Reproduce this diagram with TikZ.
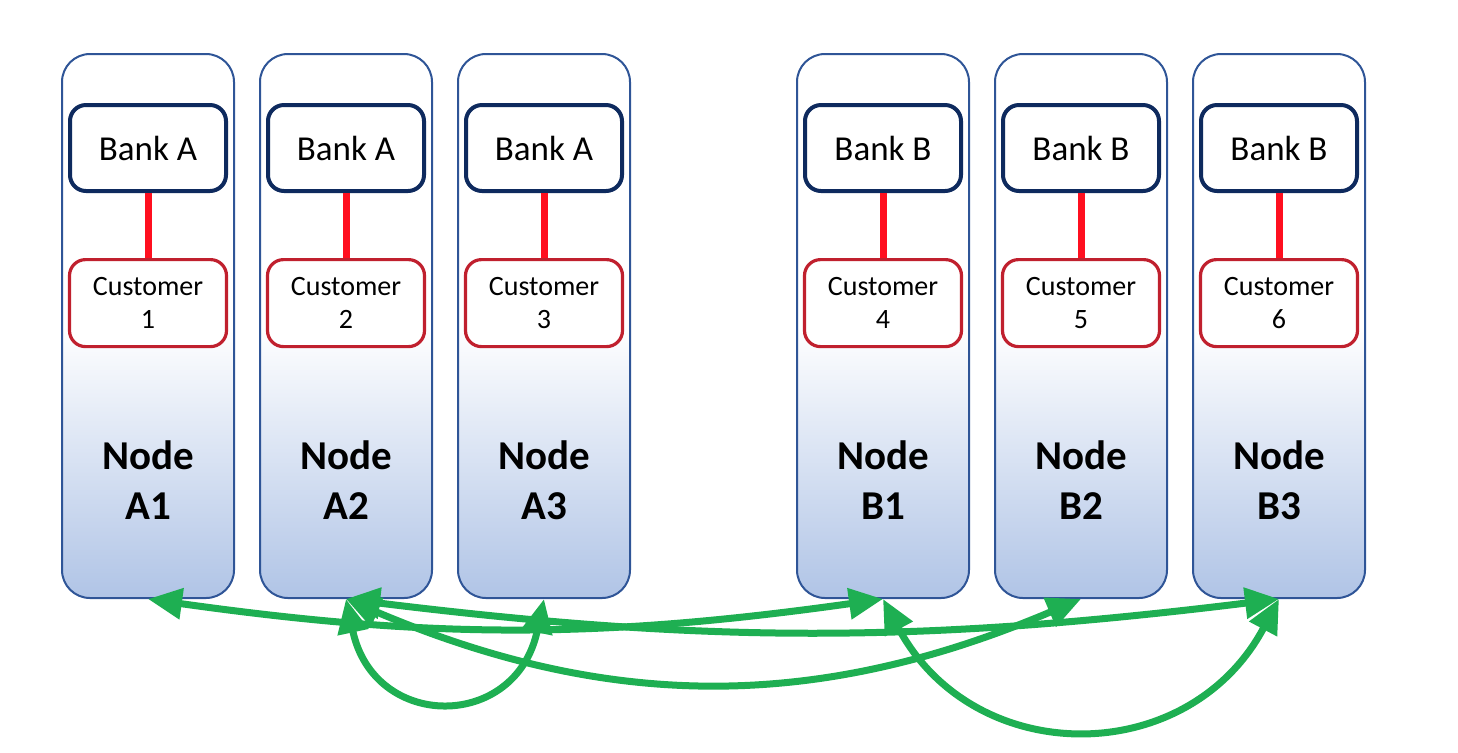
\documentclass[tikz,border=0pt]{standalone}
\usepackage{fontspec}
\setmainfont{Carlito}
\usetikzlibrary{arrows.meta,positioning}
\definecolor{colframe}{HTML}{2F5597}
\definecolor{colfill}{HTML}{B0C4E6}
\definecolor{banknavy}{HTML}{0E2A5E}
\definecolor{custred}{HTML}{C0202E}
\definecolor{tiered}{HTML}{FF0F1F}
\definecolor{linkgreen}{HTML}{1EAF52}
\tikzset{
  column/.style={rectangle, draw=colframe, line width=1pt, rounded corners=14pt, top color=white, bottom color=colfill, middle color=white, minimum width=86pt, minimum height=272pt},
  bankblock/.style={rectangle, draw=banknavy, line width=2pt, rounded corners=8pt, fill=white, minimum width=78pt, minimum height=43pt, font=\fontsize{17.5}{21}\selectfont},
  custblock/.style={rectangle, draw=custred, line width=1.6pt, rounded corners=8pt, fill=white, align=center, minimum width=78.5pt, minimum height=43.5pt, font=\fontsize{14}{16.5}\selectfont},
  colname/.style={align=center, font=\bfseries\fontsize{20.5}{25}\selectfont},
  tie/.style={draw=tiered, line width=3.5pt},
  link/.style={{Triangle[length=17pt,width=15pt]}-{Triangle[length=17pt,width=15pt]}, draw=linkgreen, line width=3.5pt}
}

\begin{document}
\begin{tikzpicture}[node distance=12pt]
  \useasboundingbox (0,0) rectangle (729pt,-376pt);
  % node columns
  \node[column, anchor=north west] (A1) at (30.5pt,-26.5pt) {};
  \node[column, right=of A1] (A2) {};
  \node[column, right=of A2] (A3) {};
  \node[column, right=82.5pt of A3] (B1) {};
  \node[column, right=of B1] (B2) {};
  \node[column, right=of B2] (B3) {};

  % bank A side
  \node[bankblock, below=25pt of A1.north] (bankA1) {Bank A};
  \node[custblock, below=32.5pt of bankA1] (cust1) {Customer\\1};
  \node[colname] (nameA1) at ([yshift=59.5pt]A1.south) {Node\\A1};
  \node[bankblock, below=25pt of A2.north] (bankA2) {Bank A};
  \node[custblock, below=32.5pt of bankA2] (cust2) {Customer\\2};
  \node[colname] (nameA2) at ([yshift=59.5pt]A2.south) {Node\\A2};
  \node[bankblock, below=25pt of A3.north] (bankA3) {Bank A};
  \node[custblock, below=32.5pt of bankA3] (cust3) {Customer\\3};
  \node[colname] (nameA3) at ([yshift=59.5pt]A3.south) {Node\\A3};

  % bank B side
  \node[bankblock, below=25pt of B1.north] (bankB1) {Bank B};
  \node[custblock, below=32.5pt of bankB1] (cust4) {Customer\\4};
  \node[colname] (nameB1) at ([yshift=59.5pt]B1.south) {Node\\B1};
  \node[bankblock, below=25pt of B2.north] (bankB2) {Bank B};
  \node[custblock, below=32.5pt of bankB2] (cust5) {Customer\\5};
  \node[colname] (nameB2) at ([yshift=59.5pt]B2.south) {Node\\B2};
  \node[bankblock, below=25pt of B3.north] (bankB3) {Bank B};
  \node[custblock, below=32.5pt of bankB3] (cust6) {Customer\\6};
  \node[colname] (nameB3) at ([yshift=59.5pt]B3.south) {Node\\B3};

  \draw[tie] (bankA1) -- (cust1);
  \draw[tie] (bankA2) -- (cust2);
  \draw[tie] (bankA3) -- (cust3);
  \draw[tie] (bankB1) -- (cust4);
  \draw[tie] (bankB2) -- (cust5);
  \draw[tie] (bankB3) -- (cust6);

  % links between nodes
  \draw[link] (A1.south) to[bend right=8] (B1.south);
  \draw[link] (A2.south) to[bend right=7] (B3.south);
  \draw[link] (A2.south) to[bend right=23] (B2.south);
  \draw[link] (A2.south) to[out=-78, in=-102, looseness=1.75] (A3.south);
  \draw[link] (B1.south) to[out=-62, in=-118, looseness=1.25] (B3.south);
\end{tikzpicture}
\end{document}
